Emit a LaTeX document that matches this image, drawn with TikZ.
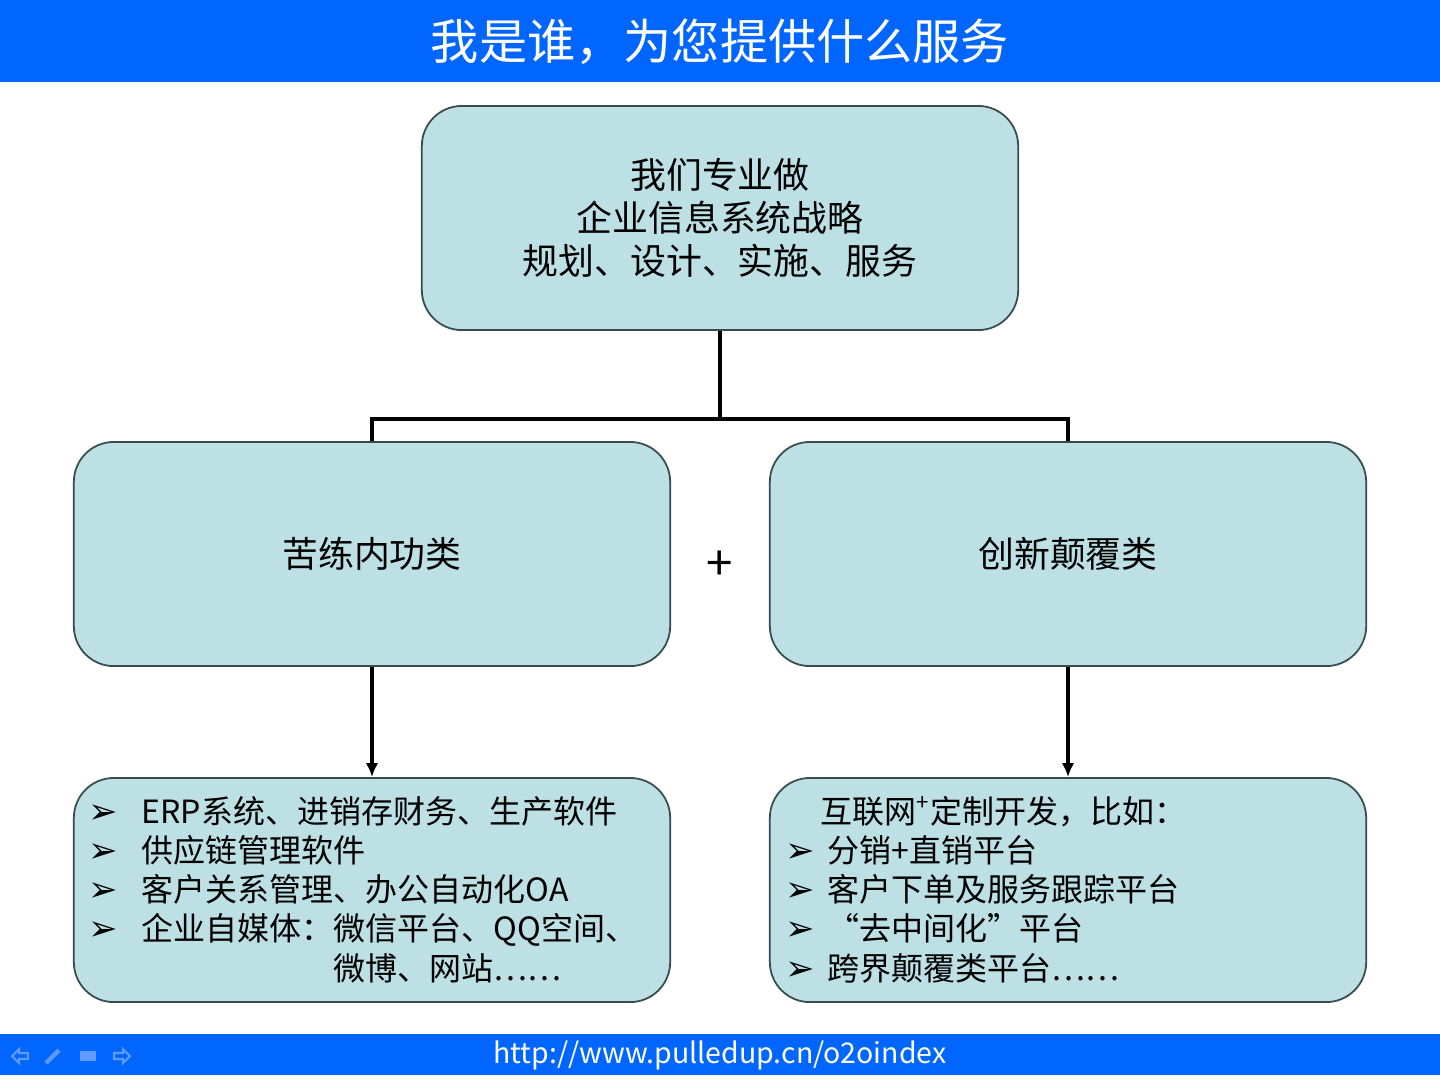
\documentclass[tikz,border=0pt]{standalone}
\usepackage{fontspec}
\usetikzlibrary{arrows.meta}
\setmainfont{Noto Sans CJK SC}
\newfontfamily\symfont{DejaVu Sans}
\definecolor{slideblue}{RGB}{0,102,255}
\definecolor{navblue}{RGB}{95,155,255}
\definecolor{boxfill}{RGB}{188,224,228}
\definecolor{boxline}{RGB}{55,75,80}
\newcommand{\arrowbullet}[1][5.5mm]{\makebox[#1][l]{\hspace{0.2mm}\symfont\fontsize{10pt}{10pt}\selectfont ➢}}

\begin{document}
\begin{tikzpicture}[x=0.01cm,y=-0.01cm,
  box/.style={draw=boxline,fill=boxfill,line width=0.5pt,rounded corners=4mm,
    minimum width=59.6mm,minimum height=22.4mm,inner sep=0pt},
  link/.style={line width=1pt},
  feed/.style={line width=0.9pt,-{Latex[length=4pt,width=3.6pt]}},
  title/.style={text=white,font=\fontsize{13.7pt}{16pt}\selectfont},
  heading/.style={font=\fontsize{10.2pt}{12.2pt}\selectfont,align=center},
  items/.style={font=\fontsize{9.1pt}{11.1pt}\selectfont,align=left,inner sep=0pt}]
\fill[white](0,0)rectangle(1440,1075);
\fill[slideblue](0,0)rectangle(1440,82);
\fill[slideblue](0,1034)rectangle(1440,1075);
\node[title] (title) at (720,42) {我是谁，为您提供什么服务};
\node[box,heading] (core) at (720,218) {我们专业做\\企业信息系统战略\\规划、设计、实施、服务};
\node[box,heading] (basic) at (372,554) {苦练内功类};
\node[box,heading] (innov) at (1068,554) {创新颠覆类};
\node[box] (basiclist) at (372,890) {};
\node[box] (innovlist) at (1068,890) {};
\node[font=\fontsize{13.5pt}{13.5pt}\selectfont] (plus) at (720,566) {+};
\coordinate (split) at (720,419);
\draw[link](core.south)--(split)-|(basic.north);
\draw[link](split)-|(innov.north);
\draw[feed](basic.south)--(basiclist.north);
\draw[feed](innov.south)--(innovlist.north);
\node[items,anchor=base west] (basicitems) at (86,980) {\arrowbullet ERP系统、进销存财务、生产软件\\
  \arrowbullet 供应链管理软件\\
  \arrowbullet 客户关系管理、办公自动化OA\\
  \arrowbullet 企业自媒体：微信平台、QQ空间、\\
  \hspace{5.5mm}\phantom{企业自媒体：}微博、网站……};
\node[items,anchor=base west] (innovitems) at (783,980) {\hspace{3.7mm}互联网\textsuperscript{+}定制开发，比如：\\
  \arrowbullet[4.4mm]分销+直销平台\\
  \arrowbullet[4.4mm]客户下单及服务跟踪平台\\
  \arrowbullet[4.4mm]“去中间化”平台\\
  \arrowbullet[4.4mm]跨界颠覆类平台……};
\node[text=white,font=\fontsize{8.1pt}{10pt}\selectfont] (url) at (720,1055) {http://www.pulledup.cn/o2oindex};
\draw[navblue,line width=0.6pt](12,1056)--(19,1049)--(19,1053)--(28,1053)--(28,1059)--(19,1059)--(19,1063)--cycle;
\draw[navblue,line width=1.2pt](46,1063)--(59,1050);
\fill[navblue](80,1051)rectangle(96,1061);
\draw[navblue,line width=0.6pt](130,1056)--(123,1049)--(123,1053)--(114,1053)--(114,1059)--(123,1059)--(123,1063)--cycle;
\end{tikzpicture}
\end{document}
